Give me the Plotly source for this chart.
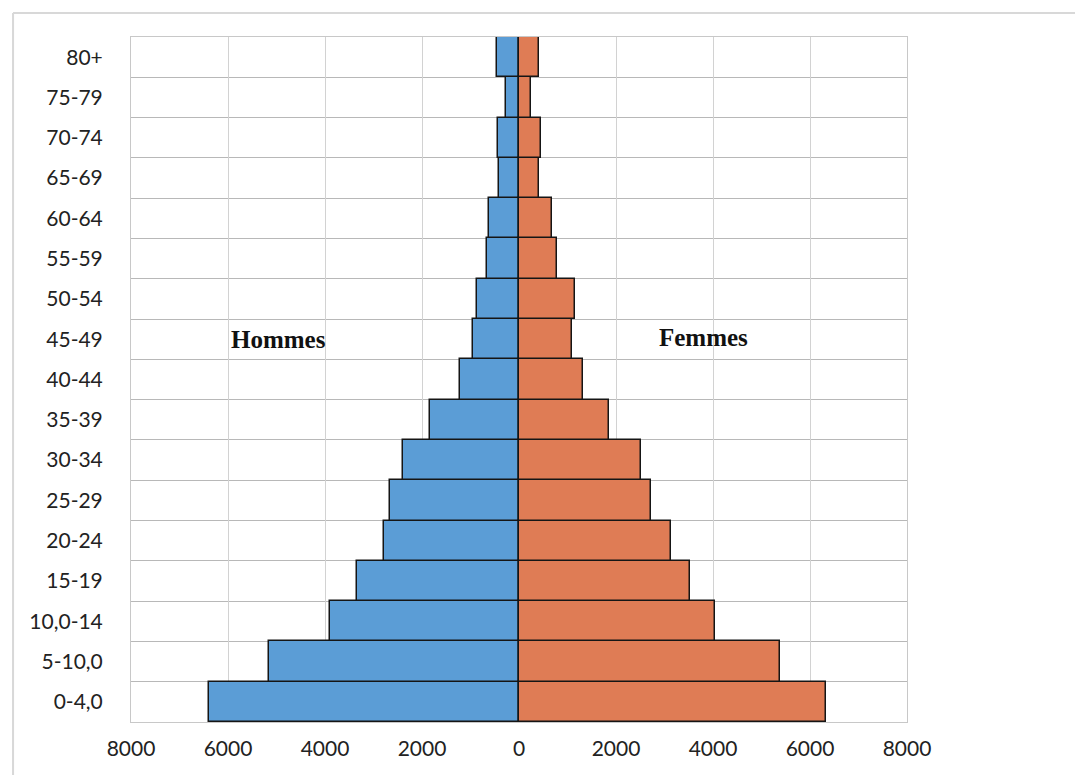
import plotly.graph_objects as go

age_groups = ["0-4,0", "5-10,0", "10,0-14", "15-19", "20-24", "25-29", "30-34",
              "35-39", "40-44", "45-49", "50-54", "55-59", "60-64", "65-69",
              "70-74", "75-79", "80+"]
hommes = [6390, 5150, 3890, 3350, 2790, 2650, 2400, 1840, 1210, 940, 870,
          670, 610, 410, 430, 270, 450]
femmes = [6320, 5390, 4040, 3530, 3140, 2720, 2520, 1850, 1310, 1100, 1150,
          780, 690, 410, 450, 240, 410]
x_ticks = [-8000, -6000, -4000, -2000, 0, 2000, 4000, 6000, 8000]
x_tick_text = [str(abs(v)) for v in x_ticks]

pos = list(range(len(age_groups)))

fig = go.Figure()
fig.add_trace(go.Bar(
    y=pos, x=[-v for v in hommes], orientation="h", width=1.0,
    marker=dict(color="#5b9dd6", line=dict(color="#151515", width=1.5)),
    name="Hommes", showlegend=False,
))
fig.add_trace(go.Bar(
    y=pos, x=femmes, orientation="h", width=1.0,
    marker=dict(color="#df7c55", line=dict(color="#151515", width=1.5)),
    name="Femmes", showlegend=False,
))

fig.add_annotation(x=-4960, y=9.0, text="<b>Hommes</b>", showarrow=False,
                   font=dict(family="Liberation Serif", size=25, color="#111111"))
fig.add_annotation(x=3800, y=9.05, text="<b>Femmes</b>", showarrow=False,
                   font=dict(family="Liberation Serif", size=25, color="#111111"))

# outer chart border (light gray)
border = dict(color="#d8d8d8", width=2)
fig.add_shape(type="line", xref="paper", yref="paper",
              x0=-0.152, x1=1.23, y0=1.035, y1=1.035, line=border)
fig.add_shape(type="line", xref="paper", yref="paper",
              x0=-0.152, x1=-0.152, y0=1.035, y1=-0.08, line=border)

fig.update_layout(
    width=1083, height=775,
    margin=dict(l=123, r=184, t=29, b=61),
    paper_bgcolor="white", plot_bgcolor="white",
    barmode="overlay", bargap=0,
    font=dict(family="Lato", size=21, color="#222222"),
    xaxis=dict(
        range=[-8000, 8000], tickvals=x_ticks, ticktext=x_tick_text,
        showgrid=True, gridcolor="#d2d2d2", gridwidth=1,
        zeroline=False, showline=True, mirror=True, linecolor="#c8c8c8",
        ticks="outside", ticklen=8, tickcolor="rgba(0,0,0,0)",
        tickfont=dict(size=21, color="#222222"), fixedrange=True,
    ),
    yaxis=dict(
        range=[-0.5, len(age_groups) - 0.5], tickvals=pos, ticktext=age_groups,
        showgrid=False, zeroline=False, showline=True, mirror=True,
        linecolor="#c8c8c8",
        ticks="outside", ticklen=23, tickcolor="rgba(0,0,0,0)",
        tickfont=dict(size=21, color="#222222"),
        minor=dict(tick0=0.5, dtick=1, showgrid=True, gridcolor="#b8b8b8",
                   gridwidth=1),
    ),
)

fig.write_html("out.html")
